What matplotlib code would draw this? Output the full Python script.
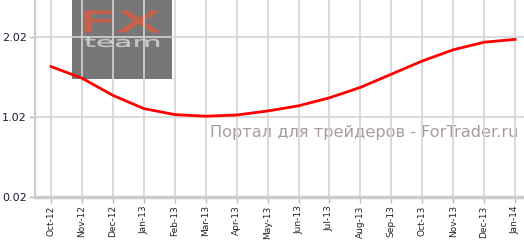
import matplotlib
matplotlib.use("Agg")
import matplotlib.pyplot as plt
from matplotlib.patches import Rectangle, PathPatch
from matplotlib.textpath import TextPath
from matplotlib.transforms import Affine2D

# data
months = ["Oct-12", "Nov-12", "Dec-12", "Jan-13", "Feb-13", "Mar-13", "Apr-13", "May-13",
          "Jun-13", "Jul-13", "Aug-13", "Sep-13", "Oct-13", "Nov-13", "Dec-13", "Jan-14"]
values = [1.65, 1.505, 1.29, 1.125, 1.05, 1.03, 1.045, 1.095,
          1.16, 1.26, 1.39, 1.555, 1.72, 1.86, 1.955, 1.99]
yticks = [0.02, 1.02, 2.02]

W, H = 524, 241
fig = plt.figure(figsize=(W / 100, H / 100), dpi=100)
ax = fig.add_axes([35 / W, 44 / H, 489 / W, 197 / H])
ax.set_facecolor("none")

x = list(range(len(months)))


def logo_text(s, box, color, lw=0):
    # stretch a text path into a pixel box (x0, x1, top, bottom)
    x0, x1, top, bottom = box
    tp = TextPath((0, 0), s, size=10)
    ext = tp.get_extents()
    tr = (Affine2D().translate(-ext.x0, -ext.y0)
          .scale((x1 - x0) / W / ext.width, (bottom - top) / H / ext.height)
          .translate(x0 / W, (H - bottom) / H)) + fig.transFigure
    fig.patches.append(PathPatch(tp, transform=tr, figure=fig, facecolor=color,
                                 edgecolor=color, linewidth=lw, zorder=-1))


# watermark box, drawn under the grid
fig.patches.append(Rectangle((72 / W, 162 / H), 100 / W, 79 / H,
                             transform=fig.transFigure, figure=fig,
                             facecolor="#777777", edgecolor="none", zorder=-2))
logo_text("FX", (85, 159, 11, 32), "#c8604c", lw=0.8)
logo_text("team", (85, 159, 37, 47), "#c8c8c8", lw=0.3)

fig.text(518 / W, 104 / H, "Портал для трейдеров - ForTrader.ru",
         color="#a89c9c", fontsize=11.6, ha="right", va="baseline", zorder=-1)

ax.plot(x, values, color="#ff0000", linewidth=2, zorder=3)

ax.set_xlim(-0.52, 15.29)
ax.set_ylim(0.02, 2.4825)
ax.set_xticks(x)
ax.set_xticklabels(months, rotation=90, fontsize=6.5, color="#222222")
ax.set_yticks(yticks)
ax.set_yticklabels([f"{v:.2f}" for v in yticks], fontsize=8, color="#1a1a3a")

ax.grid(True, color="#d4d4d4", linewidth=1.2, zorder=1)
ax.set_axisbelow(True)
for side in ["top", "right"]:
    ax.spines[side].set_visible(False)
ax.spines["left"].set_color("#cccccc")
ax.spines["left"].set_linewidth(1.5)
ax.spines["bottom"].set_color("#cccccc")
ax.spines["bottom"].set_linewidth(2.5)
ax.tick_params(axis="both", color="#bbbbbb", length=4, width=1, pad=2)

fig.savefig("out.png", dpi=100)
